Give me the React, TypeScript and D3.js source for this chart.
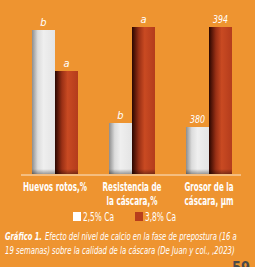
import * as d3 from "d3"
import { useEffect, useRef } from "react"

const categories = [
  ["Huevos rotos,%"],
  ["Resistencia de", "la cáscara,%"],
  ["Grosor de la", "cáscara, µm"],
]
const series = ["2,5% Ca", "3,8% Ca"]
// bar heights as drawn (each group has its own scale in the source)
const lowCa = [144, 51, 47]
const highCa = [103, 147, 147]
const lowLabels = ["b", "b", "380"]
const highLabels = ["a", "a", "394"]

const BG = "#ee9430"
const FONT = "'DejaVu Sans Condensed', 'Liberation Sans', sans-serif"

type TextSel = d3.Selection<SVGTextElement, unknown, null, undefined>

// place a text at (x, y) and squeeze it horizontally to width w
// (the source uses a condensed face that is not installed)
const place = (sel: TextSel, x: number, y: number, w?: number) => {
  let sx = 1
  if (w) {
    const len = sel.node()!.getComputedTextLength()
    if (len > 0) sx = w / len
  }
  sel.attr("x", 0).attr("y", 0).attr("transform", `translate(${x},${y}) scale(${sx},1)`)
  return sel
}

const App = () => {
  const svgRef = useRef<SVGSVGElement | null>(null)

  useEffect(() => {
    if (!svgRef.current) return
    const svg = d3.select(svgRef.current)
    svg.selectAll("*").remove()

    const W = 255
    const H = 267
    const baseline = 174

    svg.append("rect").attr("width", W).attr("height", H).attr("fill", BG)

    const defs = svg.append("defs")
    const whiteGrad = defs.append("linearGradient").attr("id", "gWhite")
    whiteGrad.append("stop").attr("offset", "0%").attr("stop-color", "#8d8d8d")
    whiteGrad.append("stop").attr("offset", "25%").attr("stop-color", "#dcdcdc")
    whiteGrad.append("stop").attr("offset", "50%").attr("stop-color", "#efefef")
    whiteGrad.append("stop").attr("offset", "100%").attr("stop-color", "#e4e4e4")
    const redGrad = defs.append("linearGradient").attr("id", "gRed")
    redGrad.append("stop").attr("offset", "0%").attr("stop-color", "#2a0600")
    redGrad.append("stop").attr("offset", "30%").attr("stop-color", "#9a3015")
    redGrad.append("stop").attr("offset", "55%").attr("stop-color", "#c94a22")
    redGrad.append("stop").attr("offset", "100%").attr("stop-color", "#b43c1c")
    const shade = defs
      .append("linearGradient")
      .attr("id", "gShade")
      .attr("x1", 0)
      .attr("x2", 0)
      .attr("y1", 0)
      .attr("y2", 1)
    shade.append("stop").attr("offset", "0%").attr("stop-color", "#000").attr("stop-opacity", 0)
    shade.append("stop").attr("offset", "100%").attr("stop-color", "#000").attr("stop-opacity", 0.35)

    const x = d3
      .scaleBand<number>()
      .domain(categories.map((_, i) => i))
      .range([32, 232])
      .paddingInner(0.4026)
      .paddingOuter(0)
    const sub = d3
      .scaleBand<number>()
      .domain([0, 1])
      .range([0, x.bandwidth()])
    const y = d3.scaleLinear().domain([0, 150]).range([baseline, baseline - 150])

    const rows = categories.map((_, i) => [
      { s: 0, v: lowCa[i], label: lowLabels[i] },
      { s: 1, v: highCa[i], label: highLabels[i] },
    ])

    const g = svg.append("g")
    rows.forEach((pair, i) => {
      const gx = x(i)!
      pair.forEach((d) => {
        const bx = gx + sub(d.s)!
        const bw = sub.bandwidth()
        g.append("rect")
          .attr("x", bx)
          .attr("y", y(d.v))
          .attr("width", bw)
          .attr("height", baseline - y(d.v))
          .attr("fill", d.s === 0 ? "url(#gWhite)" : "url(#gRed)")
        g.append("rect")
          .attr("x", bx)
          .attr("y", baseline - 5)
          .attr("width", bw)
          .attr("height", 5)
          .attr("fill", "url(#gShade)")
        const t = g
          .append("text")
          .attr("text-anchor", "middle")
          .attr("fill", "#fff")
          .style("font", `italic 11px ${FONT}`)
          .text(d.label)
        place(t, bx + bw / 2, y(d.v) - 4, d.label.length > 1 ? 15 : undefined)
      })
    })

    // axis line
    svg
      .append("line")
      .attr("x1", 21)
      .attr("x2", 241)
      .attr("y1", baseline + 1)
      .attr("y2", baseline + 1)
      .attr("stroke", "#fbe7cf")
      .attr("stroke-width", 1)

    // category labels
    const labelW = [[64], [59, 51], [49, 49]]
    categories.forEach((lines, i) => {
      const cx = x(i)! + x.bandwidth() / 2
      lines.forEach((t, j) => {
        const txt = svg
          .append("text")
          .attr("text-anchor", "middle")
          .attr("fill", "#fff")
          .style("font", `bold 11.5px ${FONT}`)
          .text(t)
        place(txt, cx, 191 + j * 13.5, labelW[i][j])
      })
    })

    // legend
    const legendX = [73, 135]
    series.forEach((s, i) => {
      svg
        .append("rect")
        .attr("x", legendX[i])
        .attr("y", 212)
        .attr("width", 8)
        .attr("height", 9)
        .attr("fill", i === 0 ? "#ffffff" : "#b83e1c")
      const t = svg
        .append("text")
        .attr("fill", "#fff")
        .style("font", `11.5px ${FONT}`)
        .text(s)
      place(t, legendX[i] + 10, 221, 31)
    })

    // caption
    const capHead = svg
      .append("text")
      .attr("fill", "#fff")
      .style("font", `italic bold 10.5px ${FONT}`)
      .text("Gráfico 1.")
    place(capHead, 5, 240, 37)
    const cap1 = svg
      .append("text")
      .attr("fill", "#fff")
      .style("font", `italic 10.5px ${FONT}`)
      .text("Efecto del nivel de calcio en la fase de prepostura (16 a")
    place(cap1, 45, 240, 192)
    const cap2 = svg
      .append("text")
      .attr("fill", "#fff")
      .style("font", `italic 10.5px ${FONT}`)
      .text("19 semanas) sobre la calidad de la cáscara (De Juan y col., ,2023)")
    place(cap2, 5, 254, 230)

    // page number (cropped by the page edge)
    const pg = svg
      .append("text")
      .attr("fill", "#4a4a4a")
      .style("font", `bold 16px ${FONT}`)
      .text("59")
    place(pg, 232, 273, 18)
  }, [])

  return (
    <svg
      ref={svgRef}
      width={255}
      height={267}
      style={{ position: "absolute", left: 0, top: 0 }}
    />
  )
}

export default App
